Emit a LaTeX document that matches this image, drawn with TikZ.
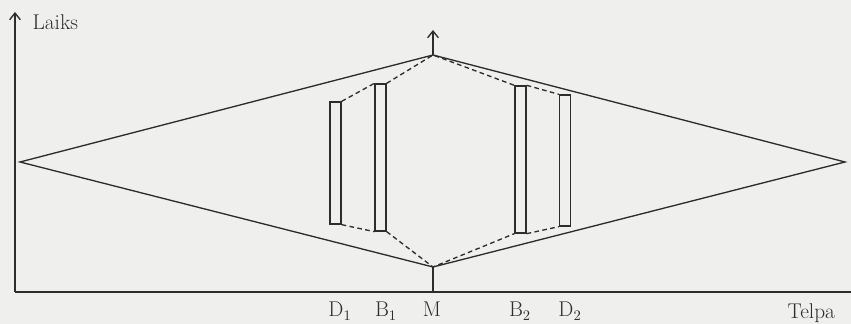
\documentclass[tikz,border=0pt]{standalone}
\usepackage{tikz}
\usetikzlibrary{arrows.meta,positioning}
\definecolor{inkgray}{RGB}{45,45,45}
\definecolor{paper}{RGB}{239,239,237}

\begin{document}
\begin{tikzpicture}[x=0.75pt,y=0.75pt,line width=1pt,color=inkgray,
    font=\fontsize{16}{19}\selectfont,
    bar/.style={draw, minimum width=8.25pt, minimum height=#1, inner sep=0pt},
    link/.style={dash pattern=on 3.5pt off 2.5pt},
    tip/.style={-{Straight Barb[length=5pt,width=8pt]}}]
  \fill[paper] (0,0) rectangle (851,324);
  \useasboundingbox (0,0) rectangle (851,324);

  % axes
  \coordinate (o) at (15,32);
  \coordinate (ytop) at (15,312);
  \coordinate (xend) at (851,32);
  \draw[tip] (o) -- (ytop);
  \draw (o) -- (xend);
  \node[anchor=base west, inner sep=0pt] (laiks) at (32,294) {Laiks};
  \node[anchor=base west, inner sep=0pt] (telpa) at (787,5) {Telpa};

  % diamond
  \coordinate (lv) at (20,162);
  \coordinate (tv) at (433,269);
  \coordinate (rv) at (845,162);
  \coordinate (bv) at (433,57);
  \coordinate (up) at (433,294);
  \coordinate (foot) at (433,32);
  \draw (lv) -- (tv) -- (rv) -- (bv) -- cycle;
  \draw[tip] (tv) -- (up);
  \draw (bv) -- (foot);

  % bars
  \node[bar=91.5pt] (d1) at (335.5,161) {};
  \node[bar=110.25pt] (b1) at (380.5,166.5) {};
  \node[bar=110.25pt] (b2) at (520.5,164.5) {};
  \node[bar=98.25pt] (d2) at (565,163.5) {};

  % dashed links
  \draw[link] (d1.north east) -- (b1.north west);
  \draw[link] (b1.north east) -- (tv) -- (b2.north west);
  \draw[link] (b2.north east) -- (d2.north west);
  \draw[link] (d1.south east) -- (b1.south west);
  \draw[link] (b1.south east) -- (bv) -- (b2.south west);
  \draw[link] (b2.south east) -- (d2.south west);

  % labels
  \node[anchor=base] (ld1) at (340,7) {D$_1$};
  \node[anchor=base] (lb1) at (386,7) {B$_1$};
  \node[anchor=base] (lm) at (432,7) {M};
  \node[anchor=base] (lb2) at (520,7) {B$_2$};
  \node[anchor=base] (ld2) at (570,7) {D$_2$};
\end{tikzpicture}
\end{document}
